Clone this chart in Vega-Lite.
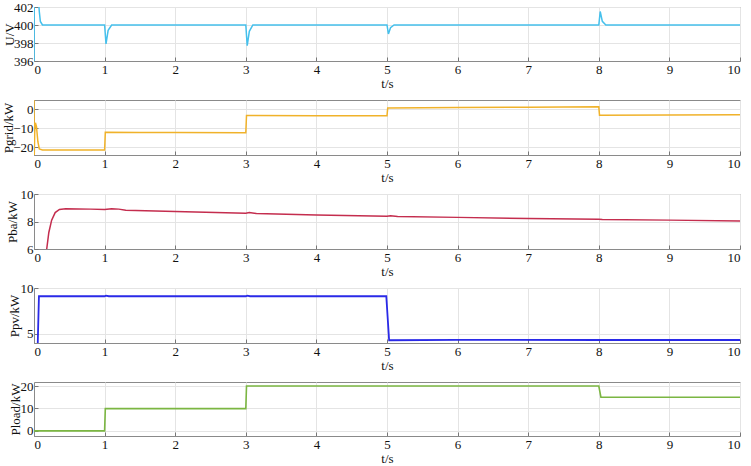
{
  "$schema": "https://vega.github.io/schema/vega-lite/v6.json",
  "padding": {"left": 1, "top": 0, "right": 6, "bottom": 0},
  "background": "white",
  "spacing": 39,
  "bounds": "flush",
  "config": {
    "font": "Liberation Serif",
    "view": {"stroke": "#8a8a8a", "strokeWidth": 1},
    "axis": {
      "labelFont": "Liberation Serif", "labelFontSize": 13, "labelColor": "#111",
      "titleFont": "Liberation Serif", "titleFontSize": 13, "titleFontWeight": "normal", "titleColor": "#111",
      "domainColor": "#8a8a8a", "gridColor": "#e4e4e4", "tickColor": "#777",
      "tickSize": -4, "labelPadding": 6
    },
    "axisX": {"titlePadding": 1},
    "axisY": {"labelPadding": 5}
  },
  "datasets": {
    "U": [
      {"t": 0, "v": 394}, {"t": 0.004, "v": 404}, {"t": 0.06, "v": 403}, {"t": 0.075, "v": 401.5}, {"t": 0.09, "v": 400.4}, {"t": 0.12, "v": 400},
      {"t": 1.0, "v": 400}, {"t": 1.02, "v": 397.9}, {"t": 1.05, "v": 399.4}, {"t": 1.1, "v": 400},
      {"t": 3.0, "v": 400}, {"t": 3.02, "v": 397.7}, {"t": 3.05, "v": 399.3}, {"t": 3.1, "v": 400},
      {"t": 5.0, "v": 400}, {"t": 5.02, "v": 399.0}, {"t": 5.05, "v": 399.7}, {"t": 5.1, "v": 400},
      {"t": 8.0, "v": 400}, {"t": 8.02, "v": 401.5}, {"t": 8.05, "v": 400.4}, {"t": 8.1, "v": 400},
      {"t": 10, "v": 400}
    ],
    "Pgrid": [
      {"t": 0, "v": 6}, {"t": 0.003, "v": -25}, {"t": 0.01, "v": -12}, {"t": 0.02, "v": -7}, {"t": 0.035, "v": -9}, {"t": 0.055, "v": -17}, {"t": 0.075, "v": -20.8}, {"t": 0.12, "v": -21.3},
      {"t": 0.5, "v": -21.4}, {"t": 1.0, "v": -21.4}, {"t": 1.01, "v": -12}, {"t": 1.5, "v": -12.1}, {"t": 2.0, "v": -12.2}, {"t": 3.0, "v": -12.3},
      {"t": 3.01, "v": -3.2}, {"t": 4.0, "v": -3.3}, {"t": 5.0, "v": -3.3},
      {"t": 5.01, "v": 0.8}, {"t": 6.0, "v": 1.0}, {"t": 7.0, "v": 1.2}, {"t": 8.0, "v": 1.4},
      {"t": 8.01, "v": -3.0}, {"t": 9.0, "v": -2.9}, {"t": 10, "v": -2.8}
    ],
    "Pba": [
      {"t": 0, "v": 0}, {"t": 0.15, "v": 4.5}, {"t": 0.18, "v": 6}, {"t": 0.21, "v": 7.2}, {"t": 0.25, "v": 8.1}, {"t": 0.3, "v": 8.65}, {"t": 0.36, "v": 8.88}, {"t": 0.45, "v": 8.92},
      {"t": 0.8, "v": 8.9}, {"t": 1.0, "v": 8.87}, {"t": 1.1, "v": 8.93}, {"t": 1.2, "v": 8.9}, {"t": 1.3, "v": 8.82}, {"t": 2.0, "v": 8.72},
      {"t": 3.0, "v": 8.6}, {"t": 3.05, "v": 8.66}, {"t": 3.15, "v": 8.58}, {"t": 4.0, "v": 8.48},
      {"t": 5.0, "v": 8.38}, {"t": 5.05, "v": 8.42}, {"t": 5.15, "v": 8.36}, {"t": 6.0, "v": 8.3},
      {"t": 7.0, "v": 8.22}, {"t": 8.0, "v": 8.16}, {"t": 8.05, "v": 8.14}, {"t": 9.0, "v": 8.1}, {"t": 10, "v": 8.03}
    ],
    "Ppv": [
      {"t": 0, "v": 2}, {"t": 0.05, "v": 3}, {"t": 0.07, "v": 9.1}, {"t": 1.0, "v": 9.1}, {"t": 1.02, "v": 9.16}, {"t": 1.06, "v": 9.1},
      {"t": 3.0, "v": 9.1}, {"t": 3.02, "v": 9.16}, {"t": 3.06, "v": 9.1}, {"t": 4.99, "v": 9.1},
      {"t": 5.03, "v": 4.3}, {"t": 6.0, "v": 4.33}, {"t": 8.0, "v": 4.33}, {"t": 10, "v": 4.33}
    ],
    "Pload": [
      {"t": 0, "v": 0}, {"t": 1.0, "v": 0}, {"t": 1.01, "v": 9.9}, {"t": 3.0, "v": 9.9}, {"t": 3.01, "v": 20},
      {"t": 8.0, "v": 20}, {"t": 8.03, "v": 15}, {"t": 10, "v": 15}
    ]
  },
  "vconcat": [
    {
      "width": 706, "height": 54,
      "data": {"name": "U"},
      "mark": {"type": "line", "color": "#45C0EC", "strokeWidth": 1.5, "clip": true},
      "encoding": {
        "x": {"field": "t", "type": "quantitative", "scale": {"domain": [0, 10], "nice": false}, "axis": {"title": "t/s", "values": [0,1,2,3,4,5,6,7,8,9,10]}},
        "y": {"field": "v", "type": "quantitative", "scale": {"domain": [396, 402], "nice": false, "zero": false}, "axis": {"title": "U/V", "titleX": -18, "values": [396, 398, 400, 402]}}
      }
    },
    {
      "width": 706, "height": 55,
      "data": {"name": "Pgrid"},
      "mark": {"type": "line", "color": "#F0B22A", "strokeWidth": 1.5, "clip": true},
      "encoding": {
        "x": {"field": "t", "type": "quantitative", "scale": {"domain": [0, 10], "nice": false}, "axis": {"title": "t/s", "values": [0,1,2,3,4,5,6,7,8,9,10]}},
        "y": {"field": "v", "type": "quantitative", "scale": {"domain": [-24, 5], "nice": false}, "axis": {"title": "Pgrid/kW", "titleX": -19, "values": [-20, -10, 0]}}
      }
    },
    {
      "width": 706, "height": 55,
      "data": {"name": "Pba"},
      "mark": {"type": "line", "color": "#C42D4E", "strokeWidth": 1.5, "clip": true},
      "encoding": {
        "x": {"field": "t", "type": "quantitative", "scale": {"domain": [0, 10], "nice": false}, "axis": {"title": "t/s", "values": [0,1,2,3,4,5,6,7,8,9,10]}},
        "y": {"field": "v", "type": "quantitative", "scale": {"domain": [6, 10], "nice": false, "zero": false}, "axis": {"title": "Pba/kW", "titleX": -15, "values": [6, 8, 10]}}
      }
    },
    {
      "width": 706, "height": 55,
      "data": {"name": "Ppv"},
      "mark": {"type": "line", "color": "#2A2AE8", "strokeWidth": 1.8, "clip": true},
      "encoding": {
        "x": {"field": "t", "type": "quantitative", "scale": {"domain": [0, 10], "nice": false}, "axis": {"title": "t/s", "values": [0,1,2,3,4,5,6,7,8,9,10]}},
        "y": {"field": "v", "type": "quantitative", "scale": {"domain": [4, 10], "nice": false, "zero": false}, "axis": {"title": "Ppv/kW", "titleX": -13, "values": [5, 10]}}
      }
    },
    {
      "width": 706, "height": 54,
      "data": {"name": "Pload"},
      "mark": {"type": "line", "color": "#7BB642", "strokeWidth": 1.6, "clip": true},
      "encoding": {
        "x": {"field": "t", "type": "quantitative", "scale": {"domain": [0, 10], "nice": false}, "axis": {"title": "t/s", "values": [0,1,2,3,4,5,6,7,8,9,10]}},
        "y": {"field": "v", "type": "quantitative", "scale": {"domain": [-2.3, 21.8], "nice": false}, "axis": {"title": "Pload/kW", "titleX": -12, "values": [0, 10, 20]}}
      }
    }
  ]
}
